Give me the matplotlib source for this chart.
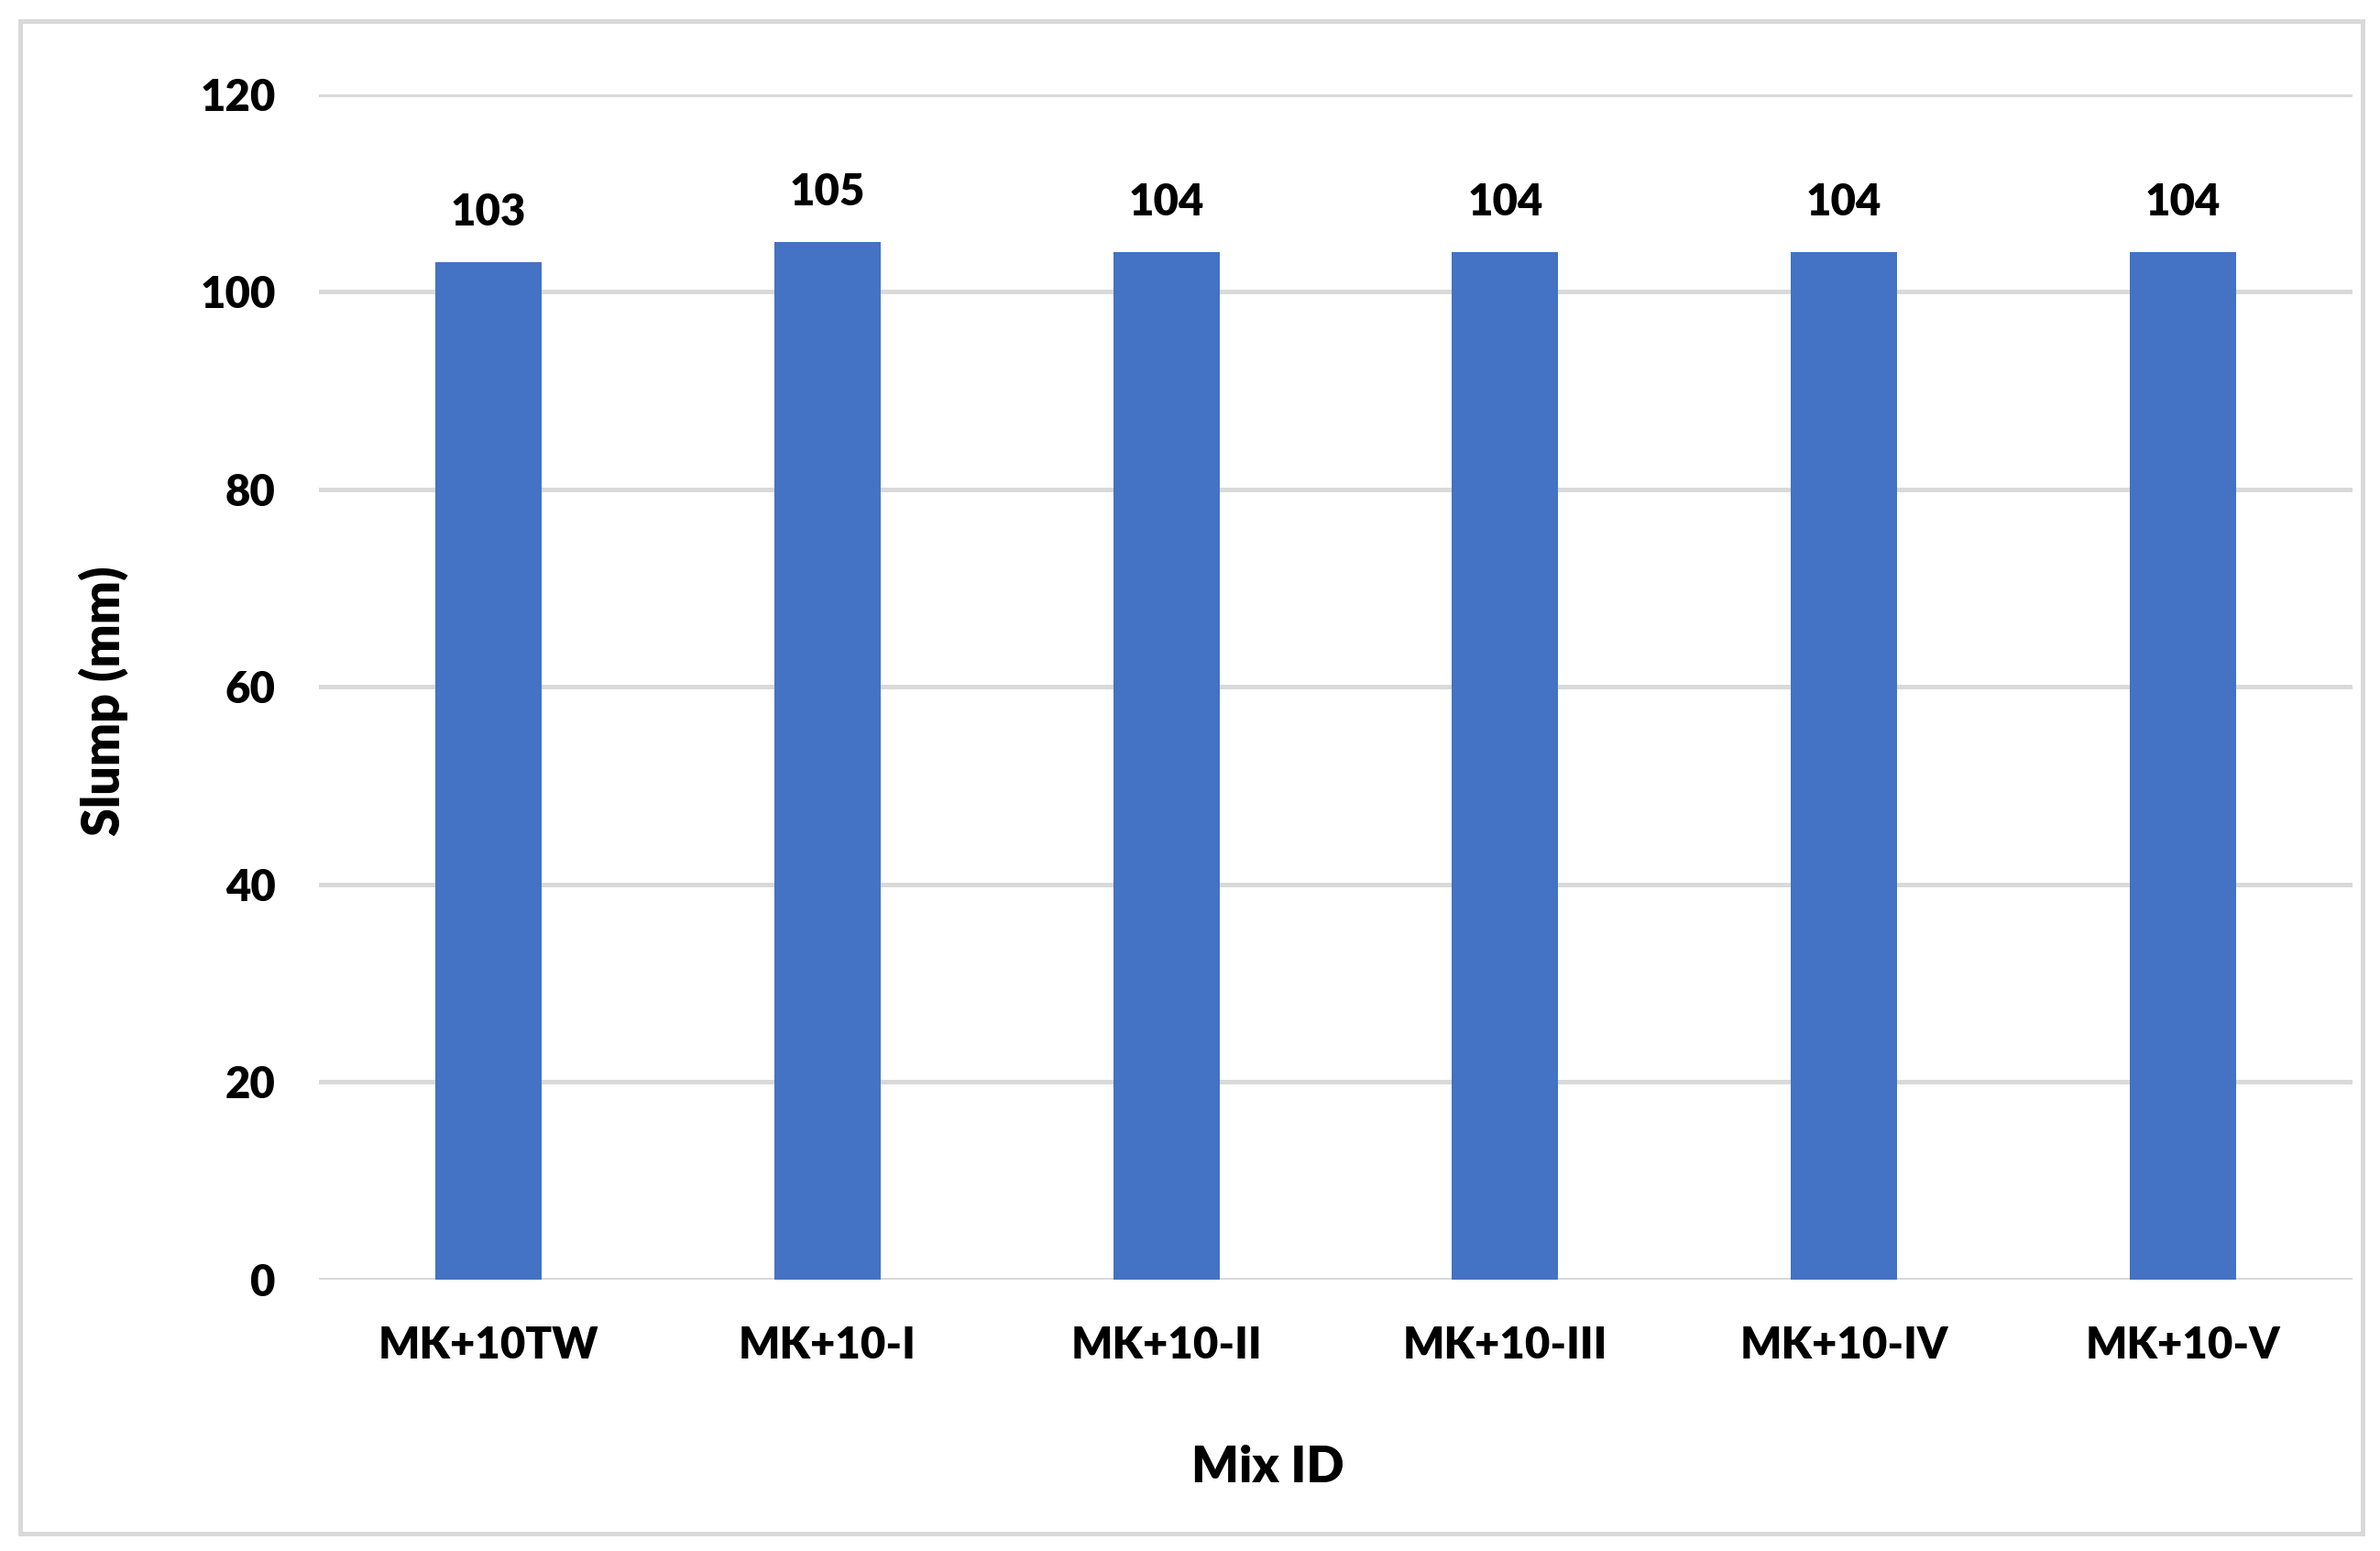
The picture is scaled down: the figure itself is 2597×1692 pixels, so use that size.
import matplotlib
matplotlib.use("Agg")
import matplotlib.pyplot as plt
from matplotlib.patches import Rectangle

categories = ["MK+10TW", "MK+10-I", "MK+10-II", "MK+10-III", "MK+10-IV", "MK+10-V"]
slump = [103, 105, 104, 104, 104, 104]
yticks = [0, 20, 40, 60, 80, 100, 120]

FONT = "Lato"
WEIGHT = "heavy"
W, H = 2597, 1692
fig = plt.figure(figsize=(W / 100, H / 100), dpi=100)
fig.patch.set_facecolor("white")

# outer chart border
fig.patches.append(Rectangle((21.5 / W, 1 - 1673 / H), (2578 - 21.5) / W, (1673 - 23) / H,
                             transform=fig.transFigure, fill=False,
                             edgecolor="#d9d9d9", linewidth=3.6, zorder=0))

left, right = 348 / W, 2567 / W
bottom, top = 1 - 1396 / H, 1 - 102.7 / H
ax = fig.add_axes([left, bottom, right - left, top - bottom])

x = range(len(categories))
bars = ax.bar(x, slump, width=0.314, color="#4472C4", zorder=3)
ax.set_xlim(-0.5, len(categories) - 0.5)
ax.set_ylim(0, 120)
ax.set_yticks(yticks)
ax.set_xticks(list(x))
ax.set_xticklabels(categories)

for s in ax.spines.values():
    s.set_visible(False)
ax.grid(axis="y", color="#d9d9d9", linewidth=3.6, zorder=0)
ax.set_axisbelow(True)
ax.tick_params(axis="both", length=0, labelsize=34)
ax.tick_params(axis="y", pad=34)
ax.tick_params(axis="x", pad=36)
for lbl in ax.get_xticklabels() + ax.get_yticklabels():
    lbl.set_fontfamily(FONT)
    lbl.set_fontweight(WEIGHT)
    lbl.set_color("black")

for b, v in zip(bars, slump):
    ax.annotate(f"{v}", (b.get_x() + b.get_width() / 2, v), xytext=(0, 39),
                textcoords="offset points", ha="center", va="center",
                fontsize=34, fontfamily=FONT, fontweight=WEIGHT, color="black")

fig.text(113 / W, 1 - 765 / H, "Slump (mm)", rotation=90, ha="center", va="center",
         fontsize=40, fontfamily=FONT, fontweight=WEIGHT)
fig.text(1383 / W, 1 - 1601 / H, "Mix ID", ha="center", va="center",
         fontsize=39, fontfamily=FONT, fontweight=WEIGHT)

fig.savefig("out.png", dpi=100, facecolor="white")
